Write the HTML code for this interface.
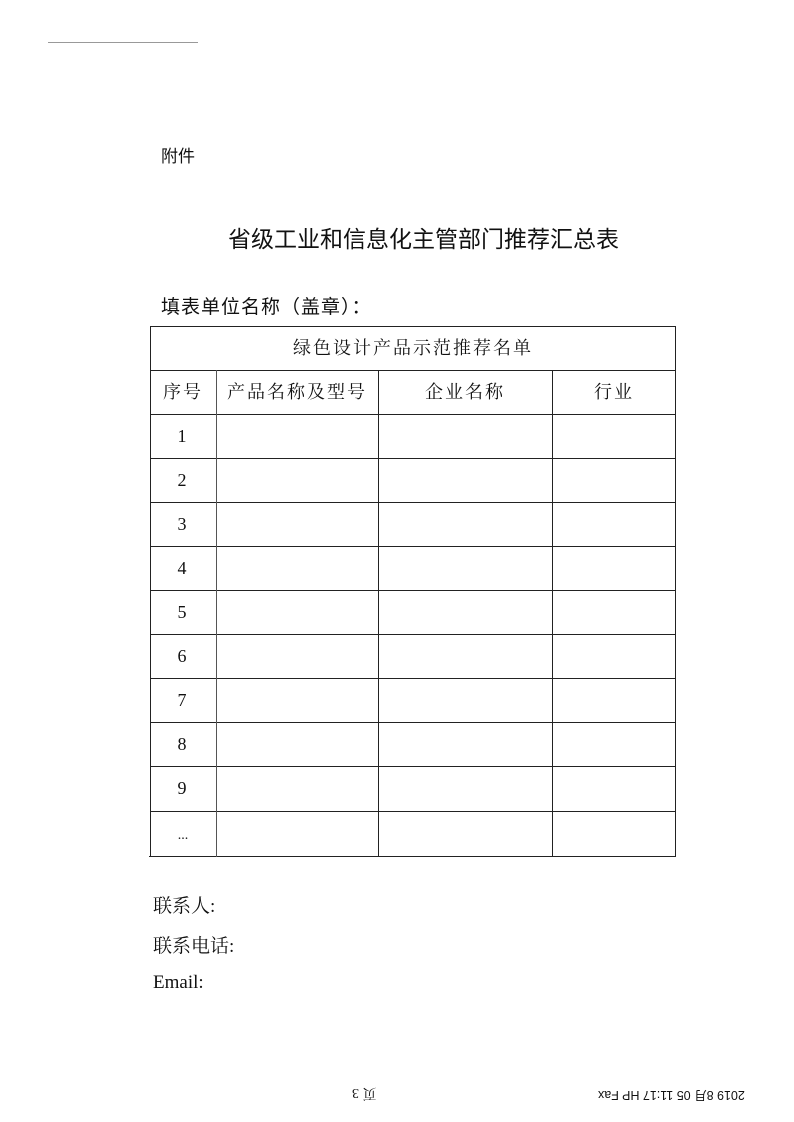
<!DOCTYPE html>
<html><head><meta charset="utf-8"><style>
html,body{margin:0;padding:0;background:#fff;}
body{width:794px;height:1122px;position:relative;overflow:hidden;font-family:"Liberation Serif","Noto Serif CJK SC",serif;color:#111;}
.a{position:absolute;white-space:nowrap;}
.l{position:absolute;background:#222;}
.c{position:absolute;text-align:center;font-size:18px;line-height:20px;letter-spacing:2px;}
</style></head><body>
<div class="l" style="left:48px;top:42px;width:150px;height:1px;background:#999"></div>
<div class="a" style="left:161px;top:142px;font-size:17px;font-family:'Liberation Sans','Noto Sans CJK SC',sans-serif;">附件</div>
<div class="a" style="left:228px;top:220px;font-size:23px;font-family:'Liberation Sans','Noto Sans CJK SC',sans-serif;">省级工业和信息化主管部门推荐汇总表</div>
<div class="a" style="left:161px;top:292px;font-size:19px;letter-spacing:1px;font-family:'Liberation Sans','Noto Sans CJK SC',sans-serif;">填表单位名称（盖章）：</div>

<div class="l" style="left:150px;top:326px;width:526px;height:1px"></div>
<div class="l" style="left:150px;top:370px;width:526px;height:1px"></div>
<div class="l" style="left:150px;top:414px;width:526px;height:1px"></div>
<div class="l" style="left:150px;top:458px;width:526px;height:1px"></div>
<div class="l" style="left:150px;top:502px;width:526px;height:1px"></div>
<div class="l" style="left:150px;top:546px;width:526px;height:1px"></div>
<div class="l" style="left:150px;top:590px;width:526px;height:1px"></div>
<div class="l" style="left:150px;top:634px;width:526px;height:1px"></div>
<div class="l" style="left:150px;top:678px;width:526px;height:1px"></div>
<div class="l" style="left:150px;top:722px;width:526px;height:1px"></div>
<div class="l" style="left:150px;top:766px;width:526px;height:1px"></div>
<div class="l" style="left:150px;top:811px;width:526px;height:1px"></div>
<div class="l" style="left:149px;top:856px;width:527px;height:1px"></div>
<div class="l" style="left:150px;top:326px;width:1px;height:531px"></div>
<div class="l" style="left:675px;top:326px;width:1px;height:531px"></div>
<div class="l" style="left:216px;top:370px;width:1px;height:487px;background:#555"></div>
<div class="l" style="left:378px;top:370px;width:1px;height:487px"></div>
<div class="l" style="left:552px;top:370px;width:1px;height:487px"></div>

<div class="c" style="left:150px;top:338px;width:526px;">绿色设计产品示范推荐名单</div>
<div class="c" style="left:150px;top:382px;width:66px;">序号</div>
<div class="c" style="left:216px;top:382px;width:162px;">产品名称及型号</div>
<div class="c" style="left:378px;top:382px;width:174px;">企业名称</div>
<div class="c" style="left:552px;top:382px;width:124px;">行业</div>
<div class="c" style="left:150px;top:426px;width:66px;">1</div>
<div class="c" style="left:150px;top:470px;width:66px;">2</div>
<div class="c" style="left:150px;top:514px;width:66px;">3</div>
<div class="c" style="left:150px;top:558px;width:66px;">4</div>
<div class="c" style="left:150px;top:602px;width:66px;">5</div>
<div class="c" style="left:150px;top:646px;width:66px;">6</div>
<div class="c" style="left:150px;top:690px;width:66px;">7</div>
<div class="c" style="left:150px;top:734px;width:66px;">8</div>
<div class="c" style="left:150px;top:778px;width:66px;">9</div>
<div class="c" style="left:150px;top:826px;width:66px;font-size:14px;letter-spacing:0;">...</div>

<div class="a" style="left:153px;top:891px;font-size:19px;">联系人:</div>
<div class="a" style="left:153px;top:931px;font-size:19px;">联系电话:</div>
<div class="a" style="left:153px;top:972px;font-size:19px;">Email:</div>

<div class="a" style="left:352px;top:1084px;font-size:14px;transform:rotate(180deg);">页 3</div>
<div class="a" style="left:598px;top:1087px;font-size:12.5px;font-family:'Liberation Sans','Noto Sans CJK SC',sans-serif;transform:rotate(180deg);">2019 8月 05 11:17 HP Fax</div>
</body></html>
